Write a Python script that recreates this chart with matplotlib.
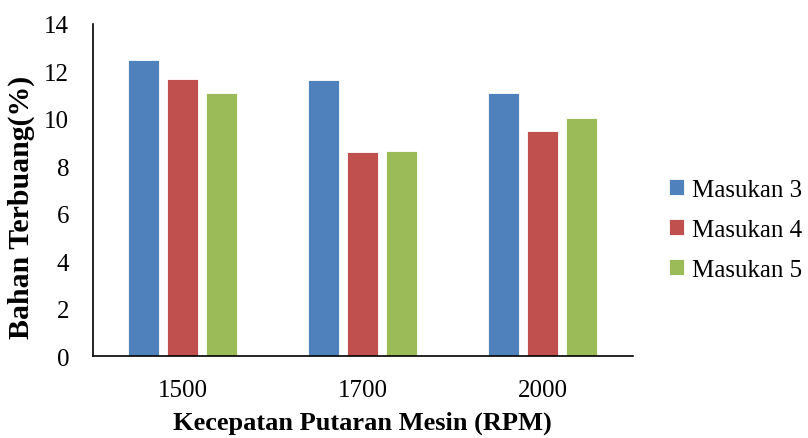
import numpy as np
import matplotlib.pyplot as plt

plt.rcParams['font.family'] = ['Liberation Serif', 'DejaVu Serif']

# data
rpm_labels = ['1500', '1700', '2000']
series_names = ['Masukan 3', 'Masukan 4', 'Masukan 5']
masukan_3 = [12.45, 11.61, 11.07]
masukan_4 = [11.65, 8.59, 9.46]
masukan_5 = [11.06, 8.62, 10.03]
colors = ['#4F81BD', '#C0504D', '#9BBB59']

fig = plt.figure(figsize=(8.08, 4.39), dpi=100)
ax = fig.add_axes([0.115, 0.186, 0.668, 0.758])

x = np.arange(len(rpm_labels))
width = 0.172
step = 0.217
for i, (vals, name) in enumerate(zip([masukan_3, masukan_4, masukan_5], series_names)):
    ax.bar(x + (i - 1) * step, vals, width, color=colors[i], label=name,
           edgecolor='white', linewidth=0.6)

ax.set_xlim(-0.5, 2.5)
ax.set_ylim(0, 14)
ax.set_yticks(range(0, 15, 2))
ax.set_xticks(x)
ax.set_xticklabels(rpm_labels)
ax.tick_params(axis='both', length=0, labelsize=18)
ax.tick_params(axis='y', pad=17)
ax.tick_params(axis='x', pad=16)

for side in ['top', 'right']:
    ax.spines[side].set_visible(False)
for side in ['left', 'bottom']:
    ax.spines[side].set_linewidth(1.2)
    ax.spines[side].set_color('black')

ax.set_xlabel('Kecepatan Putaran Mesin (RPM)', fontsize=19, fontweight='bold', labelpad=7)
ax.set_ylabel('Bahan Terbuang(%)', fontsize=21.5, fontweight='bold')
ax.yaxis.set_label_coords(-0.107, 0.45)

ax.legend(loc='center left', bbox_to_anchor=(1.068, 0.38), frameon=False, fontsize=18,
          handlelength=0.6, handleheight=0.6, handletextpad=0.3, labelspacing=0.72,
          borderpad=0, borderaxespad=0)

fig.savefig('out.png', dpi=100)
